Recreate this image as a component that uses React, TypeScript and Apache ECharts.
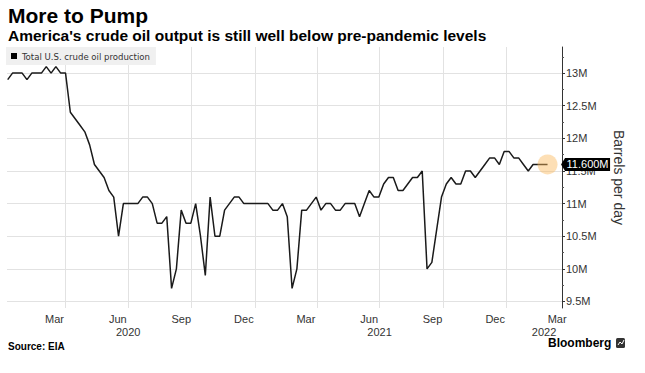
import React, { useEffect, useRef } from "react";
import * as echarts from "echarts";

// Weekly U.S. crude oil field production, million barrels per day (EIA weekly, by release week)
const firstWeek = "2020-01-08";
const production = [
  12.9, 13.0, 13.0, 13.0, 12.9, 13.0, 13.0, 13.0, 13.1, 13.0, 13.1, 13.0, 13.0,
  12.4, 12.3, 12.2, 12.1, 11.9, 11.6, 11.5, 11.4, 11.2, 11.1,
  10.5, 11.0, 11.0, 11.0, 11.0, 11.1, 11.1, 11.0, 10.7, 10.7, 10.8,
  9.7, 10.0, 10.9, 10.7, 10.7, 11.0, 10.5, 9.9, 11.1, 10.5, 10.5,
  10.9, 11.0, 11.1, 11.1, 11.0, 11.0, 11.0, 11.0, 11.0, 11.0, 10.9, 10.9, 11.0,
  10.8, 9.7, 10.0, 10.9, 10.9, 11.0, 11.1, 10.9, 11.0, 11.0, 10.9, 10.9, 11.0, 11.0, 11.0, 10.8,
  11.0, 11.2, 11.1, 11.1, 11.3, 11.4, 11.4, 11.2, 11.2, 11.3, 11.4, 11.4, 11.5,
  10.0, 10.1, 10.6, 11.1, 11.3, 11.4, 11.3, 11.3, 11.5, 11.5, 11.4, 11.5, 11.6,
  11.7, 11.7, 11.6, 11.8, 11.8, 11.7, 11.7, 11.6, 11.5, 11.6, 11.6, 11.6, 11.6,
];

const monthLabelDates = [
  "2020-03-16", "2020-06-16", "2020-09-16", "2020-12-16",
  "2021-03-16", "2021-06-16", "2021-09-16", "2021-12-16", "2022-03-16",
];
const monthLabels = ["Mar", "Jun", "Sep", "Dec", "Mar", "Jun", "Sep", "Dec", "Mar"];
const quarterGridDates = [
  "2020-04-01", "2020-07-01", "2020-10-01", "2021-01-01",
  "2021-04-01", "2021-07-01", "2021-10-01", "2022-01-01",
];
const yearLabelDates = ["2020-07-01", "2021-07-01", "2022-02-25"];
const yearLabels = ["2020", "2021", "2022"];
const yTicks = [9.5, 10, 10.5, 11, 11.5, 12, 12.5, 13];
const yMinorTicks = [9.75, 10.25, 10.75, 11.25, 11.75, 12.25, 12.75, 13.25];

const seriesName = "Total U.S. crude oil production";
const title = "More to Pump";
const subtitle = "America's crude oil output is still well below pre-pandemic levels";
const source = "Source: EIA";

const DAY = 86400000;
const ts = (s: string) => {
  const [y, m, d] = s.split("-").map(Number);
  return Date.UTC(y, m - 1, d);
};

const FONT = '"Liberation Sans", Arial, sans-serif';
const GRID_COLOR = "#e2e2e2";

export default function App() {
  const ref = useRef<HTMLDivElement>(null);

  useEffect(() => {
    document.body.style.margin = "0";
    const chart = echarts.init(ref.current!, undefined, { renderer: "svg" });

    const start = ts(firstWeek);
    const data = production.map((v, i) => [start + i * 7 * DAY, v]);
    const last = data[data.length - 1];
    const monthTimes = monthLabelDates.map(ts);
    const yearTimes = yearLabelDates.map(ts);
    const gridTimes = quarterGridDates.map(ts);
    const xMin = ts("2020-01-07");
    const xMax = ts("2022-03-23");

    const lookup = (times: number[], labels: string[]) => (val: number) => {
      for (let i = 0; i < times.length; i++) {
        if (Math.abs(times[i] - val) < DAY) return labels[i];
      }
      return "";
    };

    const option: any = {
      animation: false,
      backgroundColor: "#fff",
      textStyle: { fontFamily: FONT },
      grid: {
        left: 7,
        right: 83,
        top: 47,
        bottom: 65,
        containLabel: false,
        outerBoundsMode: "none",
      },
      legend: {
        show: true,
        left: 6,
        top: 47,
        backgroundColor: "#f0f0f0",
        padding: [4, 6, 4, 5],
        itemWidth: 6,
        itemHeight: 6,
        icon: "rect",
        selectedMode: false,
        textStyle: {
          fontFamily: '"DejaVu Sans Condensed", ' + FONT,
          fontSize: 9.5,
          color: "#333",
        },
        data: [{ name: seriesName, itemStyle: { color: "#000" } }],
      },
      xAxis: [
        {
          type: "value",
          min: xMin,
          max: xMax,
          axisLine: { show: false },
          axisTick: { show: false },
          splitLine: { show: false },
          axisLabel: {
            customValues: monthTimes,
            formatter: lookup(monthTimes, monthLabels),
            color: "#333",
            fontSize: 11,
            margin: 5,
            fontFamily: FONT,
          },
        },
        {
          type: "value",
          position: "bottom",
          offset: 13,
          min: xMin,
          max: xMax,
          axisLine: { show: false },
          axisTick: { show: false },
          splitLine: { show: false },
          axisLabel: {
            customValues: yearTimes,
            formatter: lookup(yearTimes, yearLabels),
            color: "#333",
            fontSize: 11,
            margin: 5,
            fontFamily: FONT,
          },
        },
      ],
      yAxis: [
        {
          type: "value",
          position: "right",
          min: 9.4,
          max: 13.4,
          axisLine: { show: true, lineStyle: { color: "#333", width: 1 } },
          axisTick: {
            show: true,
            customValues: yTicks,
            length: 3,
            lineStyle: { color: "#333" },
          },
          axisLabel: {
            customValues: yTicks,
            formatter: (v: number) => `${v}M`,
            color: "#333",
            fontSize: 11,
            margin: 4,
            fontFamily: FONT,
          },
          splitLine: { show: true, lineStyle: { color: GRID_COLOR, width: 1 } },
          name: "Barrels per day",
          nameLocation: "middle",
          nameRotate: -90,
          nameGap: 50,
          nameTextStyle: { fontSize: 14, color: "#333", fontFamily: FONT },
        },
        {
          type: "value",
          position: "right",
          offset: 0,
          min: 9.4,
          max: 13.4,
          axisLine: { show: false },
          axisTick: {
            show: true,
            customValues: yMinorTicks,
            length: 2,
            lineStyle: { color: "#555" },
          },
          axisLabel: { show: false },
          splitLine: { show: false },
        },
      ],
      series: [
        {
          name: seriesName,
          type: "line",
          data,
          showSymbol: false,
          symbol: "none",
          itemStyle: { color: "#000" },
          lineStyle: { color: "#1a1a1a", width: 1.5 },
          markLine: {
            silent: true,
            symbol: "none",
            label: { show: false },
            lineStyle: { color: GRID_COLOR, width: 1, type: "solid" },
            z: 0,
            data: gridTimes.map((t) => ({ xAxis: t })),
          },
          markPoint: {
            silent: true,
            data: [
              {
                coord: last,
                symbol: "circle",
                symbolSize: 20,
                itemStyle: { color: "rgba(250, 185, 90, 0.45)" },
                label: { show: false },
              },
              {
                coord: last,
                symbol: "path://M0,6.5 L4,0 L49,0 L49,13 L4,13 Z",
                symbolSize: [49, 13],
                symbolOffset: [38, 0],
                itemStyle: { color: "#000" },
                label: {
                  show: true,
                  position: "inside",
                  formatter: `${(last[1] as number).toFixed(3)}M`,
                  color: "#fff",
                  fontSize: 11,
                  fontFamily: FONT,
                  offset: [2, 0],
                },
              },
            ],
          },
        },
      ],
      graphic: [
        {
          type: "text",
          left: 8,
          top: 5,
          style: { text: title, font: `bold 21px ${FONT}`, fill: "#000" },
        },
        {
          type: "text",
          left: 8,
          top: 27,
          style: { text: subtitle, font: `bold 15.5px ${FONT}`, fill: "#000" },
        },
        {
          type: "text",
          left: 8,
          top: 341,
          style: { text: source, font: `bold 10px ${FONT}`, fill: "#000" },
        },
        {
          type: "text",
          left: 548,
          top: 337,
          style: { text: "Bloomberg", font: `bold 12px ${FONT}`, fill: "#000" },
        },
        {
          type: "rect",
          shape: { x: 616, y: 338, width: 9, height: 10, r: 1.5 },
          style: { fill: "#333" },
        },
        {
          type: "polyline",
          shape: { points: [[618, 345], [620, 342], [622, 344], [624, 340]] },
          style: { stroke: "#fff", lineWidth: 1, fill: null },
        },
      ],
    };

    chart.setOption(option);
    return () => chart.dispose();
  }, []);

  return <div ref={ref} style={{ width: 645, height: 373 }} />;
}
